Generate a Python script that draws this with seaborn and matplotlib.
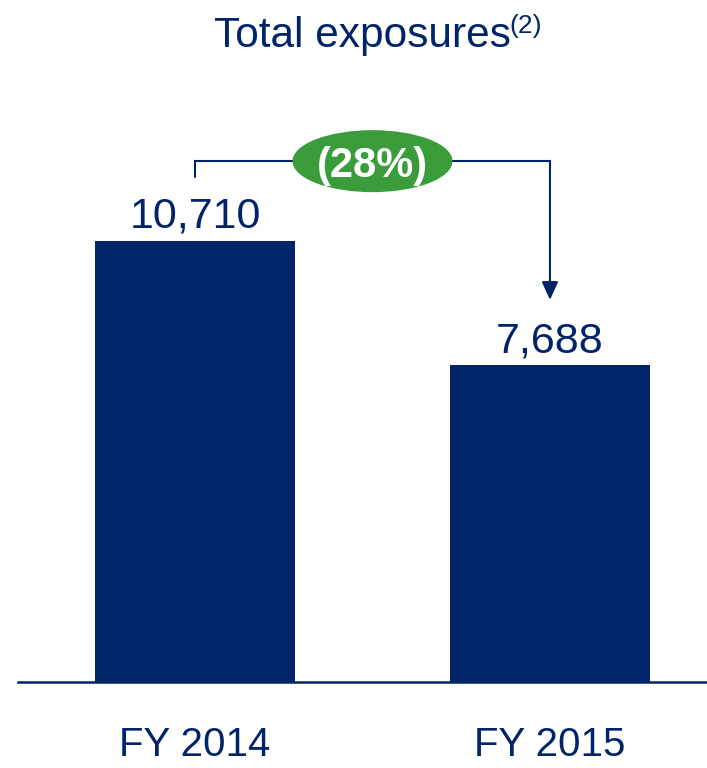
import matplotlib
matplotlib.use("Agg")
import matplotlib.pyplot as plt
from matplotlib.patches import Ellipse
import seaborn as sns
import pandas as pd

# ---- data ----
categories = ["FY 2014", "FY 2015"]
values = [10710, 7688]
value_labels = ["10,710", "7,688"]

NAVY = "#002469"
GREEN = "#3A9C3A"

sns.set_theme(style="white")
plt.rcParams["font.family"] = ["Liberation Sans", "DejaVu Sans"]

df = pd.DataFrame({"period": categories, "exposure": values})

W, H = 707, 768
fig = plt.figure(figsize=(W / 100, H / 100), dpi=100)
ax = fig.add_axes([18 / W, 86 / H, 689 / W, 682 / H])

sns.barplot(data=df, x="period", y="exposure", color=NAVY, saturation=1,
            width=0.563, ax=ax)
for p in ax.patches:
    p.set_edgecolor("none")
    p.set_facecolor(NAVY)

ax.set_xlim(-0.4986, 1.4423)
ax.set_ylim(0, 16562)

for s in ["top", "left", "right"]:
    ax.spines[s].set_visible(False)
ax.spines["bottom"].set_color(NAVY)
ax.spines["bottom"].set_linewidth(1.8)
ax.set_yticks([])
ax.set_xlabel("")
ax.set_ylabel("")
ax.tick_params(axis="x", length=0, pad=32, labelsize=29, labelcolor=NAVY)

# value labels
for i, (v, lab) in enumerate(zip(values, value_labels)):
    ax.annotate(lab, xy=(i, v), xytext=(0, 9.5), textcoords="offset points",
                ha="center", va="baseline", fontsize=31, color=NAVY)

# change bracket
top = max(values)
y_br = top * 1.181
y_left = top * 1.145
y_tip = values[1] * 1.207
ax.plot([0, 0, 1], [y_left, y_br, y_br], color=NAVY, lw=1.5, zorder=3,
        solid_joinstyle="miter")
ax.annotate("", xy=(1, y_tip), xytext=(1, y_br),
            arrowprops=dict(arrowstyle="-|>,head_length=1.1,head_width=0.5",
                            color=NAVY, lw=1.5, shrinkA=0, shrinkB=0,
                            mutation_scale=10), zorder=3)
ell = Ellipse((0.5, y_br), width=0.4507, height=1506, facecolor=GREEN,
              edgecolor="none", zorder=4)
ax.add_patch(ell)
pct = round((values[1] - values[0]) / values[0] * 100)
ax.text(0.5, y_br, f"({abs(pct)}%)", ha="center", va="center_baseline",
        fontsize=30, fontweight="bold", color="white", zorder=5)

# title
fig.text(214 / W, 1 - 47 / H, "Total exposures", ha="left", va="baseline",
         fontsize=30.5, color=NAVY)
fig.text(509 / W, 1 - 33 / H, "(2)", ha="left", va="baseline",
         fontsize=19, color=NAVY)

fig.savefig("out.png", dpi=100)
